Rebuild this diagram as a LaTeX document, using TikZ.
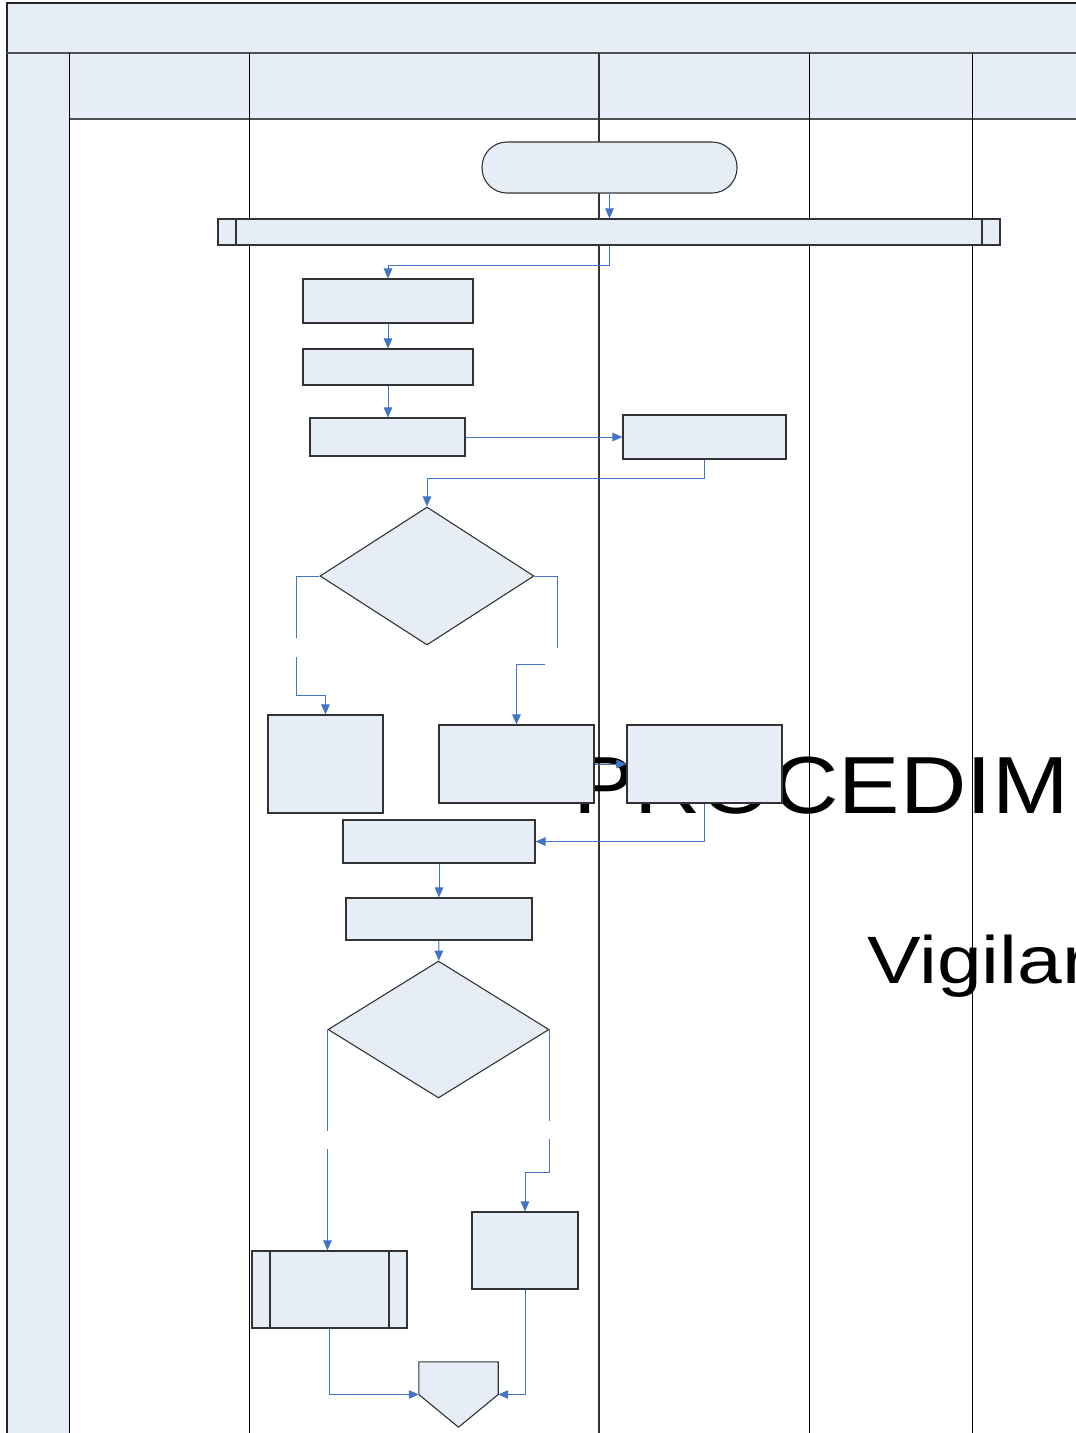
\documentclass[tikz,border=0pt]{standalone}
\usepackage{fontspec}
\setmainfont{Liberation Sans}
\usetikzlibrary{arrows.meta,positioning,shapes.geometric}
\definecolor{lanefill}{RGB}{230,237,247}
\definecolor{connblue}{RGB}{68,114,196}
\definecolor{linegray}{RGB}{80,80,80}

\begin{document}
\begin{tikzpicture}[x=1pt,y=-1pt,
  caja/.style 2 args={draw=black!80,line width=1.1pt,fill=lanefill,inner sep=0pt,
              minimum width=#1,minimum height=#2},
  deci/.style 2 args={caja={#1}{#2},diamond},
  term/.style 2 args={caja={#1}{#2},rounded corners=25pt},
  predef/.style 2 args={caja={#1}{#2},path picture={
      \draw[black!80,line width=1.1pt]
        ([xshift=18pt]path picture bounding box.north west) -- ([xshift=18pt]path picture bounding box.south west)
        ([xshift=-18pt]path picture bounding box.north east) -- ([xshift=-18pt]path picture bounding box.south east);}},
  conn/.style={draw=connblue,line width=1pt,-{Triangle[length=10pt,width=8.5pt]}},
  hueco/.style={fill=white,inner sep=0pt,minimum width=16pt,minimum height=#1},
  titulo/.style={anchor=base west,inner sep=0pt,font=\fontsize{#1}{#1}\selectfont}
]
\useasboundingbox (0,0) rectangle (1076,1433);
\clip (0,0) rectangle (1076,1433);

\fill[lanefill] (7,3) rectangle (1090,53);
\fill[lanefill] (7,53) rectangle (69,1440);
\fill[lanefill] (69,53) rectangle (1090,119);
\draw[black!85,line width=1.2pt] (1090,3) -- (7,3) -- (7,1440);
\draw[linegray,line width=2pt] (7,53) -- (1090,53);
\draw[linegray,line width=2pt] (69,119) -- (1090,119);
\foreach \x in {69,249,809,972}
  \draw[black,line width=1pt] (\x,53) -- (\x,1440);
\draw[black!80,line width=1.6pt] (599,53) -- (599,1440);

\node[titulo=81] (proc) at (573,813) {\scalebox{1.135}[1]{PROCEDIM}};
\node[titulo=67] (vig) at (867,983) {\scalebox{1.2}[1]{Vigilar}};

\node[term={255pt}{51pt}]   (inicio) at (609.5,167.5) {};
\node[predef={782pt}{26pt}] (barra)  at (609,232) {};
\node[caja={170pt}{44pt}]   (p1)  at (388,301) {};
\node[caja={170pt}{36pt}]   (p2)  at (388,367) {};
\node[caja={155pt}{38pt}]   (p3)  at (387.5,437) {};
\node[caja={163pt}{44pt}]   (p4)  at (704.5,437) {};
\node[deci={214pt}{138pt}]  (d1)  at (427,576) {};
\node[caja={115pt}{98pt}]   (p5)  at (325.5,764) {};
\node[caja={155pt}{78pt}]   (p6)  at (516.5,764) {};
\node[caja={155pt}{78pt}]   (p7)  at (704.5,764) {};
\node[caja={192pt}{43pt}]   (p8)  at (439,841.5) {};
\node[caja={186pt}{42pt}]   (p9)  at (439,919) {};
\node[deci={221pt}{137pt}]  (d2)  at (438.5,1029.5) {};
\node[predef={155pt}{77pt}] (p10) at (329.5,1289.5) {};
\node[caja={106pt}{77pt}]   (p11) at (525,1250.5) {};
\node[inner sep=0pt,minimum width=79pt,minimum height=65pt] (fin) at (458.5,1394.5) {};
\draw[black!80,line width=1.1pt,fill=lanefill]
  (fin.north west) -- (fin.north east) -- (fin.east) -- (fin.south) -- (fin.west) -- cycle;

\draw[conn] (inicio.south) -- (inicio.south |- barra.north);
\draw[conn] (barra.south) -- ++(0,20) -| (p1.north);
\draw[conn] (p1) -- (p2);
\draw[conn] (p2.south) -- (p2.south |- p3.north);
\draw[conn] (p3) -- (p4);
\draw[conn] (p4.south) -- ++(0,19) -| (d1.north);
\draw[conn] (d1.west) -- ++(-23,0) -- ++(0,119) -| (p5.north);
\node[hueco=19pt] (h1) at (297,647.5) {};
\draw[conn] (d1.east) -- ++(23,0) -- ++(0,88) -| (p6.north);
\node[hueco=20pt,minimum width=20pt] (h2) at (555,658) {};
\draw[conn] (p6) -- (p7);
\draw[conn] (p7.south) |- (p8.east);
\draw[conn] (p8) -- (p9);
\draw[conn] (p9) -- (d2);
\draw[conn] (d2.west) -- (d2.west |- p10.north);
\node[hueco=18pt] (h3) at (329,1140) {};
\draw[conn] (d2.east) -- ++(0,143) -| (p11.north);
\node[hueco=18pt] (h4) at (549,1130) {};
\draw[conn] (p10.south) |- (fin.west);
\draw[conn] (p11.south) |- (fin.east);
\end{tikzpicture}
\end{document}
